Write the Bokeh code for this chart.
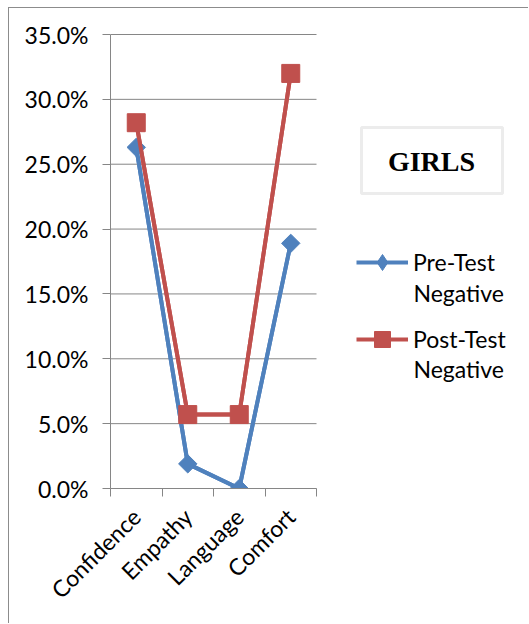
from math import pi
from bokeh.plotting import figure
from bokeh.models import (Range1d, FixedTicker, NumeralTickFormatter, Legend, LegendItem,
                          Label, BoxAnnotation, ColumnDataSource)
from bokeh.embed import file_html
from bokeh.resources import INLINE

categories = ["Confidence", "Empathy", "Language", "Comfort"]
pre_test = [0.263, 0.019, 0.0, 0.189]
post_test = [0.282, 0.057, 0.057, 0.320]
y_ticks = [0.0, 0.05, 0.10, 0.15, 0.20, 0.25, 0.30, 0.35]
series_labels = ["Pre-Test", "Post-Test"]
series_label_second_line = "Negative"
box_title = "GIRLS"

BLUE = "#4F81BD"
RED = "#C0504D"
GRID = "#868686"
FONT = "Lato"
FS = "23px"

n = len(categories)
centers = [i + 0.5 for i in range(n)]
y_max = y_ticks[-1]

# canvas is offset by 9px / 8px by the CSS frame border
W, H = 520, 616
FL, FT, FB = 101, 22, 136          # frame left, top, bottom borders
frame_w = W - FL
frame_h = H - FT - FB
plot_w = 206                        # pixel width of the category area
plot_h = 454                        # pixel height of 0..35%

p = figure(width=W, height=H,
           x_range=Range1d(0, n * frame_w / plot_w),
           y_range=Range1d(0, y_max * frame_h / plot_h),
           output_backend="svg", toolbar_location=None,
           min_border_left=FL, min_border_right=0, min_border_top=FT, min_border_bottom=FB,
           styles={"margin-left": "8px", "margin-top": "7px",
                   "border-left": "1px solid #8C8C8C", "border-top": "1px solid #8C8C8C"})
p.outline_line_color = None
p.background_fill_color = "white"
p.border_fill_color = "white"
p.xgrid.visible = False
p.ygrid.visible = False

yt = FixedTicker(ticks=y_ticks)
p.yaxis.ticker = yt
p.yaxis.bounds = (0, y_max)
p.yaxis.formatter = NumeralTickFormatter(format="0.0%")
p.yaxis.axis_line_color = GRID
p.yaxis.major_tick_line_color = GRID
p.yaxis.major_tick_out = 8
p.yaxis.major_tick_in = 0
p.yaxis.minor_tick_line_color = None
p.yaxis.major_label_text_font = FONT
p.yaxis.major_label_text_font_size = FS
p.yaxis.major_label_text_color = "black"
p.yaxis.major_label_standoff = 14

xa = p.xaxis[0]
xa.ticker = FixedTicker(ticks=centers, minor_ticks=list(range(n + 1)))
xa.bounds = (0, n)
xa.major_label_overrides = {c: name for c, name in zip(centers, categories)}
xa.major_tick_line_color = None
xa.major_tick_out = 0
xa.major_tick_in = 0
xa.minor_tick_line_color = GRID
xa.minor_tick_out = 8
xa.minor_tick_in = 0
xa.axis_line_color = GRID
xa.major_label_orientation = pi / 4
xa.major_label_text_font = FONT
xa.major_label_text_font_size = FS
xa.major_label_text_color = "black"
xa.major_label_standoff = 16

# horizontal gridlines over the category area
p.segment(x0=[0] * len(y_ticks), x1=[n] * len(y_ticks), y0=y_ticks, y1=y_ticks,
          line_color=GRID, line_width=1)

src = ColumnDataSource(dict(x=centers, pre=pre_test, post=post_test))

# legend proxies: drawn first, fully covered by the real marks below
lpl = p.line("x", "pre", source=src, line_color=BLUE, line_width=4)
lps = p.scatter("x", "pre", source=src, marker="diamond", size=16,
                fill_color=BLUE, line_color=BLUE)
lrl = p.line("x", "post", source=src, line_color=RED, line_width=4)
lrs = p.scatter("x", "post", source=src, marker="square", size=16,
                fill_color=RED, line_color=RED)

p.line("x", "pre", source=src, line_color=BLUE, line_width=4)
p.scatter("x", "pre", source=src, marker="square", angle=pi / 4, size=13,
          fill_color=BLUE, line_color=BLUE)
p.line("x", "post", source=src, line_color=RED, line_width=4)
p.scatter("x", "post", source=src, marker="square", size=18,
          fill_color=RED, line_color=RED)

legend = Legend(items=[LegendItem(label=series_labels[0], renderers=[lpl, lps]),
                       LegendItem(label=series_labels[1], renderers=[lrl, lrs])],
                location=(246, 129), orientation="vertical", glyph_width=52, glyph_height=40,
                spacing=37, padding=0, margin=0, border_line_color=None,
                background_fill_alpha=0, label_text_font=FONT, label_text_font_size=FS,
                label_text_color="black", label_standoff=5)
p.add_layout(legend)

for yy in (196, 120):
    p.add_layout(Label(x=303, y=yy, x_units="screen", y_units="screen", text=series_label_second_line,
                       text_align="left", text_baseline="middle", text_font=FONT,
                       text_font_size=FS, text_color="black"))

p.add_layout(BoxAnnotation(left=251, right=392, top=361, bottom=295, left_units="screen",
                           right_units="screen", top_units="screen", bottom_units="screen",
                           fill_alpha=0, line_color="#BFBFBF", line_width=3))
p.add_layout(Label(x=321, y=327, x_units="screen", y_units="screen", text=box_title,
                   text_align="center", text_baseline="middle",
                   text_font="Liberation Serif", text_font_style="bold",
                   text_font_size="28px", text_color="black"))

open("out.html", "w").write(file_html(p, INLINE))
